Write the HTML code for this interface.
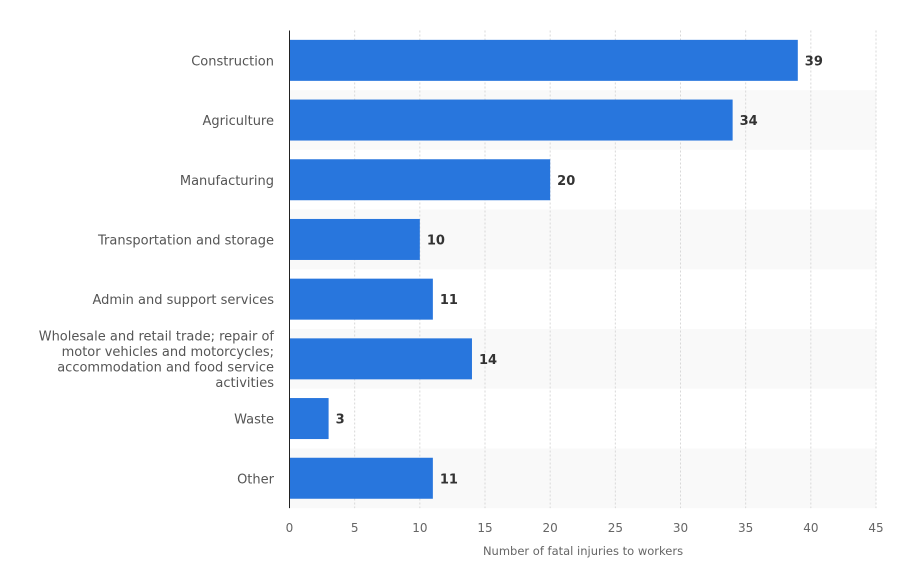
<!DOCTYPE html>
<html><head><meta charset="utf-8"><style>
body{margin:0;background:#fff;font-family:"DejaVu Sans","Liberation Sans",sans-serif;}
svg{display:block}
</style></head><body>
<svg id="chart" width="902" height="574"></svg>
<script>
const categories=["Construction","Agriculture","Manufacturing","Transportation and storage","Admin and support services","Wholesale and retail trade; repair of|motor vehicles and motorcycles;|accommodation and food service|activities","Waste","Other"];
const values=[39,34,20,10,11,14,3,11];
const ticks=[0,5,10,15,20,25,30,35,40,45];
const NS="http://www.w3.org/2000/svg";
const svg=document.getElementById('chart');
const x0=289.5,xMax=45,pw=586.5,top0=30.5,rowH=59.7,barH=41;
const xs=v=>x0+v/xMax*pw;
function el(t,a,p){const e=document.createElementNS(NS,t);for(const k in a)e.setAttribute(k,a[k]);(p||svg).appendChild(e);return e;}
categories.forEach((c,i)=>{if(i%2==1){const b=el('rect',{x:x0,y:top0+i*rowH,width:pw,height:rowH,fill:'#f9f9f9'});

}});
ticks.forEach(t=>{if(t>0){const g=el('line',{x1:xs(t),x2:xs(t),y1:top0,y2:top0+8*rowH,stroke:'#d8d8d8','stroke-dasharray':'2,2'});

}
const l=el('text',{x:xs(t),y:532,'text-anchor':'middle','font-size':12,fill:'#666'});l.textContent=t;

});
categories.forEach((c,i)=>{const cy=top0+i*rowH+rowH/2;
const r=el('rect',{x:x0,y:cy-barH/2,width:xs(values[i])-x0,height:barH,fill:'#2876dd'});


const v=el('text',{x:xs(values[i])+7,y:cy+5,'font-size':13,'font-weight':'bold',fill:'#333'});v.textContent=values[i];


const lines=c.split('|');
lines.forEach((ln,j)=>{const t=el('text',{x:274,y:cy+5+(j-(lines.length-1)/2)*15.5,'text-anchor':'end','font-size':13,fill:'#555'});t.textContent=ln;

});
});
const ax=el('line',{x1:x0,x2:x0,y1:top0,y2:top0+8*rowH,stroke:'#222','stroke-width':1});


const tt=el('text',{x:583,y:555,'text-anchor':'middle','font-size':11.5,fill:'#666'});tt.textContent='Number of fatal injuries to workers';


</script>
</body></html>
